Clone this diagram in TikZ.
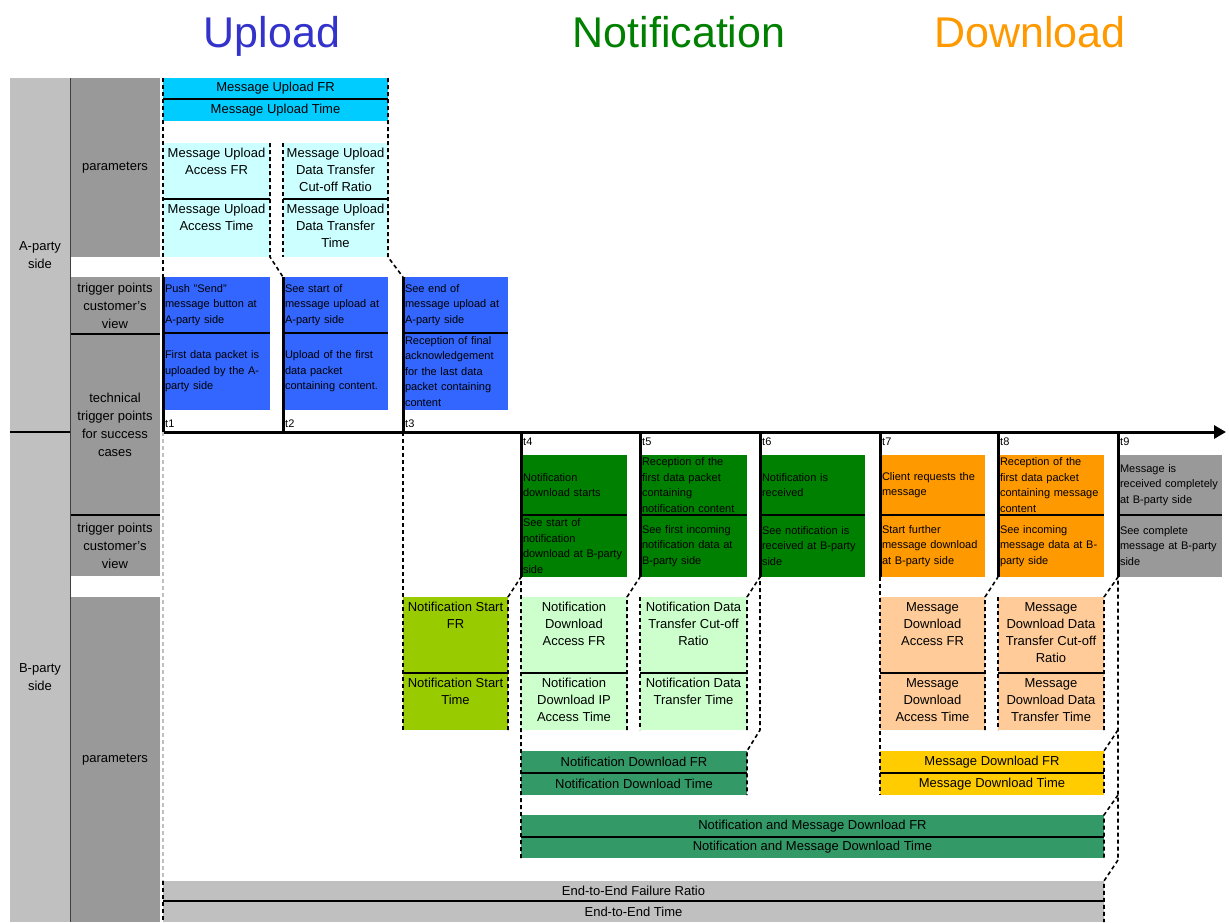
\documentclass[tikz,border=0pt]{standalone}
\usepackage{fontspec}
\setmainfont{Liberation Sans}
\usepackage{tikz}
\usetikzlibrary{arrows.meta}
\definecolor{HeadBlue}{HTML}{3333CC}
\definecolor{HeadGreen}{HTML}{008000}
\definecolor{HeadOrange}{HTML}{FF9900}
\definecolor{SideGray}{HTML}{C0C0C0}
\definecolor{RowGray}{HTML}{999999}
\definecolor{EdgeGray}{HTML}{404040}
\definecolor{UpCyan}{HTML}{00CCFF}
\definecolor{UpPale}{HTML}{CCFFFF}
\definecolor{TrigBlue}{HTML}{3366FF}
\definecolor{TrigGreen}{HTML}{008000}
\definecolor{TrigOrange}{HTML}{FF9900}
\definecolor{TrigGray}{HTML}{999999}
\definecolor{NotLime}{HTML}{99CC00}
\definecolor{NotPale}{HTML}{CCFFCC}
\definecolor{NotSea}{HTML}{339966}
\definecolor{MsgPeach}{HTML}{FFCC99}
\definecolor{MsgGold}{HTML}{FFCC00}
\tikzstyle{cellbg} = [rectangle, anchor=north west, inner sep=0pt, outer sep=0pt]
\tikzstyle{head} = [anchor=base, font=\fontsize{43}{50}\selectfont]
\tikzstyle{side} = [align=center, font=\fontsize{13}{18}\selectfont]
\tikzstyle{bar} = [font=\fontsize{13}{15}\selectfont]
\tikzstyle{ptext} = [anchor=north, align=center, inner sep=2pt, yshift=-3pt, font=\fontsize{13}{17}\selectfont]
\tikzstyle{tbox} = [cellbg, align=left, inner xsep=2pt, font=\fontsize{11}{15.5}\selectfont]
\tikzstyle{tlabel} = [inner sep=1pt, font=\fontsize{11}{13}\selectfont]
\tikzstyle{divider} = [black, line width=1.5pt]
\tikzstyle{boxedge} = [black, line width=1.6pt, dash pattern=on 4pt off 3pt]
\tikzstyle{tline} = [black, line width=3pt]

\begin{document}
\begin{tikzpicture}[x=1pt, y=-1pt]
  \useasboundingbox (0,0) rectangle (1229,922);

  % phase headings
  \node[head, text=HeadBlue] (upload) at (272,47) {Upload};
  \node[head, text=HeadGreen] (notif) at (679,47) {Notification};
  \node[head, text=HeadOrange] (download) at (1030,47) {Download};

  % left columns
  \node[cellbg, side, fill=SideGray, minimum width=60pt, minimum height=354pt] (aside) at (10,78) {A-party\\side};
  \node[cellbg, side, fill=SideGray, minimum width=60pt, minimum height=490pt] (bside) at (10,432) {B-party\\side};
  \draw[divider] (bside.north west) -- (bside.north east);
  \foreach \nm/\y/\h/\txt in {apar/78/179/parameters,
      atrig/277/57/{trigger points\\customer's\\view},
      atech/334/181/{technical\\trigger points\\for success\\cases},
      btrig/515/61/{trigger points\\customer's\\view},
      bpar/597/325/parameters}
    \node[cellbg, side, fill=RowGray, minimum width=90pt, minimum height=\h pt] (\nm) at (70,\y) {\txt};
  \draw[divider] (atech.north west) -- (atech.north east);
  \draw[divider] (btrig.north west) -- (btrig.north east);
  \draw[EdgeGray, line width=1pt] (aside.north east) -- (bside.south east);

  % one-line bars
  \foreach \nm/\x/\y/\w/\h/\col/\txt in {
      upfr/163/78/225/21/UpCyan/{Message Upload FR},
      uptime/163/99/225/22/UpCyan/{Message Upload Time},
      ndfr/521/751/226/22/NotSea/{Notification Download FR},
      ndtime/521/773/226/22/NotSea/{Notification Download Time},
      mdfr/880/751/224/22/MsgGold/{Message Download FR},
      mdtime/880/773/224/22/MsgGold/{Message Download Time},
      nmfr/521/815/583/22/NotSea/{Notification and Message Download FR},
      nmtime/521/837/583/21/NotSea/{Notification and Message Download Time},
      eefr/163/881/941/20/SideGray/{End-to-End Failure Ratio},
      eetime/163/901/941/21/SideGray/{End-to-End Time}}
    \node[cellbg, bar, fill=\col, minimum width=\w pt, minimum height=\h pt] (\nm) at (\x,\y) {\txt};
  \foreach \nm in {uptime, ndtime, mdtime, nmtime, eetime}
    \draw[divider] (\nm.north west) -- (\nm.north east);

  % parameter boxes
  \foreach \nm/\x/\y/\w/\h/\col in {
      ua1/163/143/107/56/UpPale, ua1t/163/199/107/58/UpPale,
      ua2/283/143/105/56/UpPale, ua2t/283/199/105/58/UpPale,
      ns/403/597/105/76/NotLime, nst/403/673/105/57/NotLime,
      nda/521/597/106/76/NotPale, ndat/521/673/106/57/NotPale,
      ndd/640/597/107/76/NotPale, nddt/640/673/107/57/NotPale,
      mda/880/597/105/76/MsgPeach, mdat/880/673/105/57/MsgPeach,
      mdd/998/597/106/76/MsgPeach, mddt/998/673/106/57/MsgPeach}
    \node[cellbg, fill=\col, minimum width=\w pt, minimum height=\h pt] (\nm) at (\x,\y) {};
  \foreach \nm/\txt in {
      ua1/{Message Upload\\Access FR}, ua1t/{Message Upload\\Access Time},
      ua2/{Message Upload\\Data Transfer\\Cut-off Ratio}, ua2t/{Message Upload\\Data Transfer\\Time},
      ns/{Notification Start\\FR}, nst/{Notification Start\\Time},
      nda/{Notification\\Download\\Access FR}, ndat/{Notification\\Download IP\\Access Time},
      ndd/{Notification Data\\Transfer Cut-off\\Ratio}, nddt/{Notification Data\\Transfer Time},
      mda/{Message\\Download\\Access FR}, mdat/{Message\\Download\\Access Time},
      mdd/{Message\\Download Data\\Transfer Cut-off\\Ratio}, mddt/{Message\\Download Data\\Transfer Time}}
    \node[ptext] (\nm-l) at (\nm.north) {\txt};
  \foreach \nm in {ua1t, ua2t, nst, ndat, nddt, mdat, mddt}
    \draw[divider] (\nm.north west) -- (\nm.north east);

  % trigger point boxes
  \foreach \nm/\x/\y/\tw/\h/\col/\txt in {
      ta1/163/277/103/56/TrigBlue/{Push "Send"\\message button at\\A-party side},
      ta1t/163/333/103/77/TrigBlue/{First data packet is\\uploaded by the A-\\party side},
      ta2/283/277/101/56/TrigBlue/{See start of\\message upload at\\A-party side},
      ta2t/283/333/101/77/TrigBlue/{Upload of the first\\data packet\\containing content.},
      ta3/403/277/101/56/TrigBlue/{See end of\\message upload at\\A-party side},
      ta3t/403/333/101/77/TrigBlue/{Reception of final\\acknowledgement\\for the last data\\packet containing\\content},
      tb4/521/455/102/60/TrigGreen/{Notification\\download starts},
      tb4t/521/515/102/62/TrigGreen/{See start of\\notification\\download at B-party\\side},
      tb5/640/455/103/60/TrigGreen/{Reception of the\\first data packet\\containing\\notification content},
      tb5t/640/515/103/62/TrigGreen/{See first incoming\\notification data at\\B-party side},
      tb6/760/455/101/60/TrigGreen/{Notification is\\received},
      tb6t/760/515/101/62/TrigGreen/{See notification is\\received at B-party\\side},
      tb7/880/455/101/60/TrigOrange/{Client requests the\\message},
      tb7t/880/515/101/62/TrigOrange/{Start further\\message download\\at B-party side},
      tb8/998/455/102/60/TrigOrange/{Reception of the\\first data packet\\containing message\\content},
      tb8t/998/515/102/62/TrigOrange/{See incoming\\message data at B-\\party side},
      tb9/1118/455/100/60/TrigGray/{Message is\\received completely\\at B-party side},
      tb9t/1118/515/100/62/TrigGray/{See complete\\message at B-party\\side}}
    \node[tbox, fill=\col, text width=\tw pt, minimum height=\h pt] (\nm) at (\x,\y) {\txt};
  \foreach \nm in {ta1t, ta2t, ta3t, tb4t, tb5t, tb6t, tb7t, tb8t, tb9t}
    \draw[divider] (\nm.north west) -- (\nm.north east);

  % time points
  \foreach \i/\x in {1/163, 2/283, 3/403} {
    \coordinate (t\i-top) at (\x,277);
    \coordinate (t\i-bot) at (\x,432);
    \draw[tline] (t\i-top) -- (t\i-bot);
    \node[tlabel, anchor=south west] (t\i) at (\x+1,429) {t\i};
  }
  \foreach \i/\x in {4/521, 5/640, 6/760, 7/880, 8/998, 9/1118} {
    \coordinate (t\i-top) at (\x,432);
    \coordinate (t\i-bot) at (\x,577);
    \draw[tline] (t\i-top) -- (t\i-bot);
    \node[tlabel, anchor=north west] (t\i) at (\x+1,437) {t\i};
  }
  \coordinate (tend) at (1226,432);
  \draw[tline, -{Triangle[length=12pt, width=13pt]}] (t1-bot) -- (tend);

  % dashed borders, upload
  \draw[boxedge] (upfr.north west) -- (t1-top);
  \draw[boxedge] (ua1.north east) -- (ua1t.south east) -- (t2-top);
  \draw[boxedge] (ua2.north west) -- (ua2t.south west);
  \draw[boxedge] (upfr.north east) -- (ua2t.south east) -- (t3-top);

  % dashed borders, notification
  \coordinate (t6-end) at (760,730);
  \draw[boxedge] (t3-bot) -- (nst.south west);
  \draw[boxedge] (nst.south east) -- (ns.north east) -- (t4-bot) -- (nmtime.south west);
  \draw[boxedge] (ndat.south east) -- (nda.north east) -- (t5-bot);
  \draw[boxedge] (ndd.north west) -- (nddt.south west);
  \draw[boxedge] (nddt.south east) -- (ndd.north east) -- (t6-bot) -- (t6-end) -- (ndfr.north east) -- (ndtime.south east);

  % dashed borders, download
  \coordinate (t9-a) at (1118,730);
  \coordinate (t9-b) at (1118,795);
  \coordinate (t9-c) at (1118,860);
  \draw[boxedge] (t7-bot) -- (mdtime.south west);
  \draw[boxedge] (mdat.south east) -- (mda.north east) -- (t8-bot);
  \draw[boxedge] (mdd.north west) -- (mddt.south west);
  \draw[boxedge] (mddt.south east) -- (mdd.north east) -- (t9-bot) -- (t9-c);
  \foreach \tp/\bt/\tj in {mdfr/mdtime/t9-a, nmfr/nmtime/t9-b, eefr/eetime/t9-c}
    \draw[boxedge] (\tj) -- (\tp.north east) -- (\bt.south east);

  % end-to-end left border
  \draw[boxedge, SideGray] (t1-bot) -- (eefr.north west);
  \draw[boxedge] (eefr.north west) -- (eetime.south west);
\end{tikzpicture}
\end{document}
